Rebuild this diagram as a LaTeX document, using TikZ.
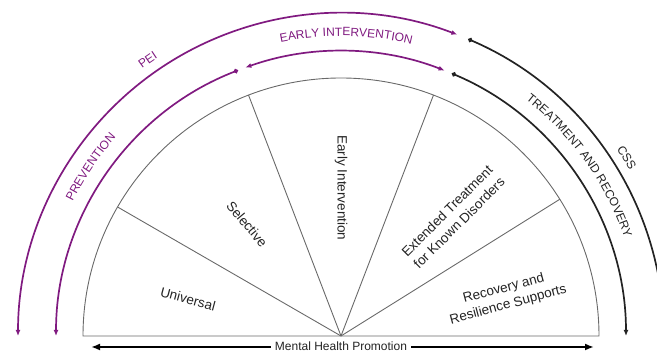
\documentclass[tikz,border=0pt]{standalone}
\usepackage{fontspec}
\setmainfont{Liberation Sans}
\usetikzlibrary{arrows.meta,decorations.text,calc}

\definecolor{peipurple}{RGB}{128,26,128}
\definecolor{wedgegray}{RGB}{105,105,105}
\definecolor{inkdark}{RGB}{35,35,35}

\tikzset{
  wedgeline/.style={draw=wedgegray, line width=0.9pt},
  purplearc/.style={draw=peipurple, line width=1.7pt},
  blackarc/.style={draw=inkdark, line width=1.7pt},
  tipboth/.style={{Latex[length=6pt,width=5pt]}-{Latex[length=6pt,width=5pt]}},
  dotstart/.style={{Circle[length=4.5pt]}-{Latex[length=6pt,width=5pt]}},
  dotonly/.style={{Circle[length=4.5pt]}-},
  seclabel/.style={text=inkdark, font=\fontsize{13.5}{17}\selectfont, inner sep=0pt},
  promo/.style={draw=black, line width=2.4pt, -{Latex[length=9pt,width=7pt]}},
}

\newcommand{\arclabel}[5]{%
  % #1 colour, #2 start angle, #3 end angle, #4 baseline radius, #5 text
  \path[decorate, decoration={text along path, text align=center,
      text={|\fontsize{12}{14}\selectfont\color{#1}|#5}}]
    ($(C)+(#2:#4)$) arc[start angle=#2, end angle=#3, radius=#4];
}

\begin{document}
\begin{tikzpicture}[x=1pt,y=1pt]
\useasboundingbox (0,0) rectangle (657,352);
\clip (0,0) rectangle (657,352);
\coordinate (C) at (341,16);

% half disc with its five sectors
\draw[wedgeline] ($(C)+(180:258)$) arc[start angle=180, end angle=0, radius=258] -- cycle;
\foreach \a/\n in {150/s1,111/s2,69/s3,32/s4}{
  \coordinate (\n) at ($(C)+(\a:258)$);
  \draw[wedgeline] (C) -- (\n);
}

% outer ring: PEI and CSS
\draw[purplearc, tipboth] ($(C)+(180:323)$) arc[start angle=180, end angle=68.9, radius=323];
\draw[blackarc, dotonly] ($(C)+(66.8:323)$) arc[start angle=66.8, end angle=-5, radius=323];

% inner ring: prevention, early intervention, treatment and recovery
\draw[purplearc, dotstart] ($(C)+(111.2:285)$) arc[start angle=111.2, end angle=180, radius=285];
\draw[purplearc, tipboth] ($(C)+(109.6:285)$) arc[start angle=109.6, end angle=68.7, radius=285];
\draw[blackarc, dotstart] ($(C)+(67.1:285)$) arc[start angle=67.1, end angle=0, radius=285];

% ring labels
\arclabel{peipurple}{140}{110}{333}{PEI}
\arclabel{peipurple}{170}{122}{300}{PREVENTION}
\arclabel{peipurple}{115}{63}{300}{EARLY INTERVENTION}
\arclabel{inkdark}{62}{9}{300}{TREATMENT AND RECOVERY}
\arclabel{inkdark}{45}{19}{333}{CSS}

% sector labels
\node[seclabel, rotate=-15] (universal) at ($(C)+(-153,37)$) {Universal};
\node[seclabel, rotate=-50] (selective) at ($(C)+(-94,112)$) {Selective};
\node[seclabel, rotate=-90] (earlyint) at ($(C)+(0,148)$) {Early Intervention};
\node[seclabel, rotate=45, align=center] (extended) at ($(C)+(112,119)$) {Extended Treatment\\for Known Disorders};
\node[seclabel, rotate=15, align=center] (recovery) at ($(C)+(165,39)$) {Recovery and\\Resilience Supports};

% base axis
\node[text=inkdark, font=\fontsize{12}{14}\selectfont, inner sep=4pt] (mhp) at (341,6) {Mental Health Promotion};
\coordinate (leftend) at (91,5);
\coordinate (rightend) at (594,5);
\draw[promo] (mhp.west |- leftend) -- (leftend);
\draw[promo] (mhp.east |- rightend) -- (rightend);
\end{tikzpicture}
\end{document}
